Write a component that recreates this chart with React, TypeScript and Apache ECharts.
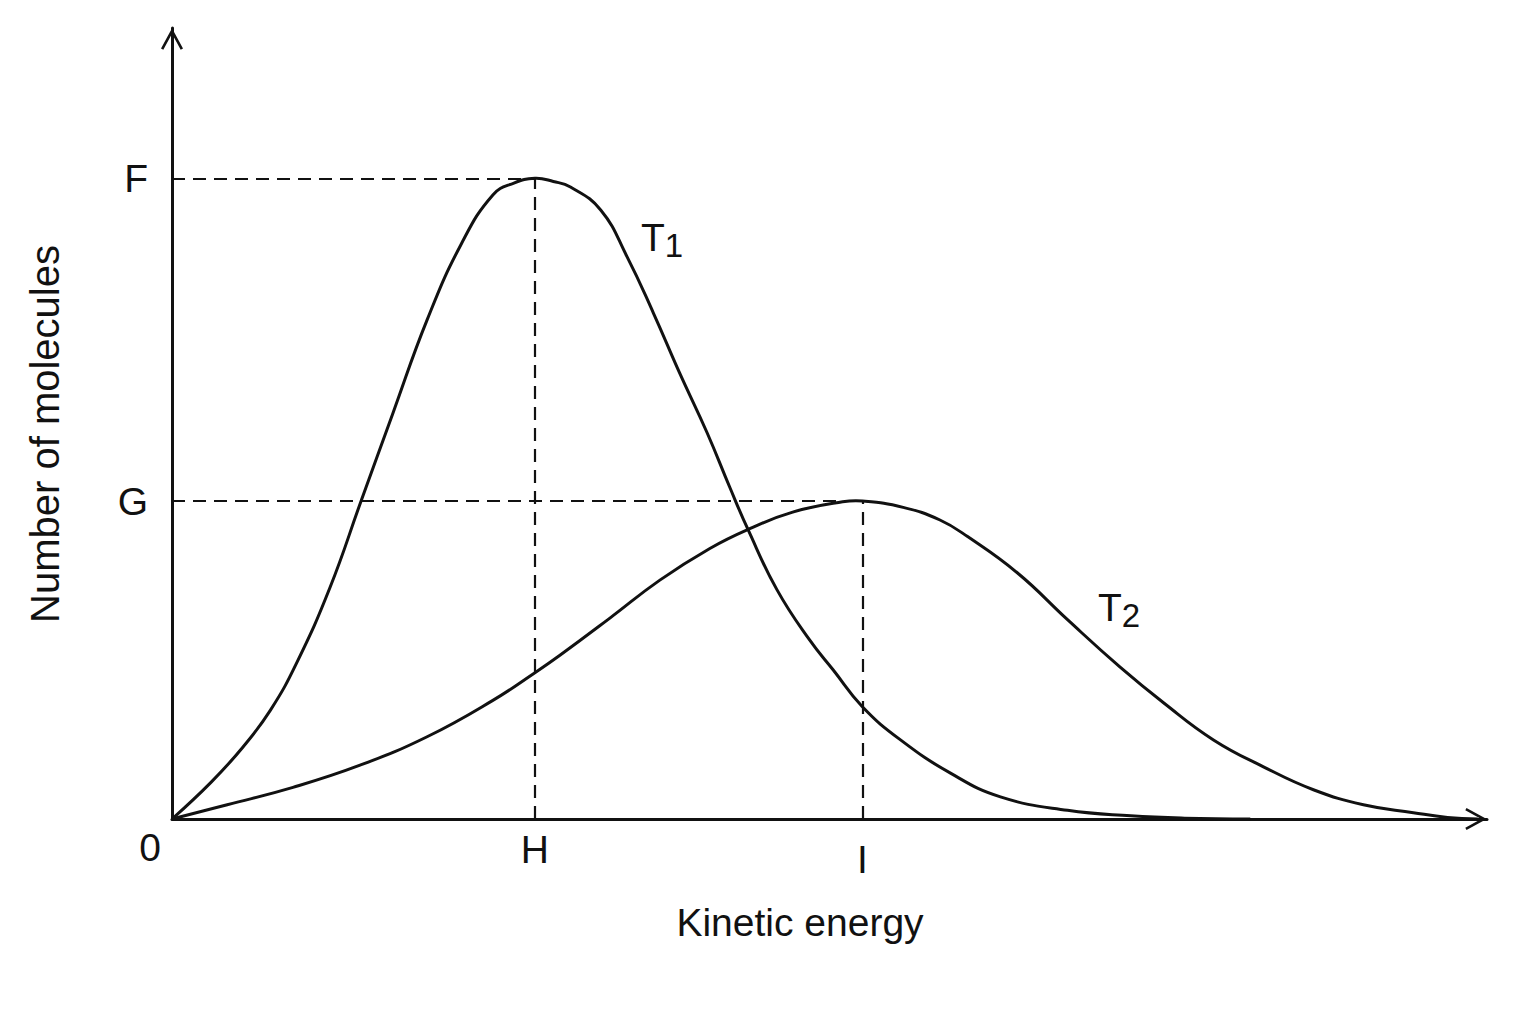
import { useEffect, useRef } from 'react'
import * as echarts from 'echarts'

// curves: [kinetic energy, number of molecules], both on a 0-100 scale
const t1Points: [number, number][] = [
  [0, 0], [3.0, 4.7], [5.4, 9.1], [7.5, 13.8], [9.5, 19.8], [12.0, 29.2],
  [14.4, 40.3], [16.8, 51.3], [19.4, 63.1], [22.0, 72.7], [24.4, 78.9],
  [26.0, 80.4], [27.6, 81.0], [29.0, 80.6], [30.3, 79.9], [32.6, 77.0],
  [34.6, 71.1], [36.6, 64.0], [38.6, 56.4], [40.7, 48.8], [42.4, 42.0],
  [43.8, 36.6], [46.0, 29.0], [48.5, 22.6], [50.3, 18.8], [52.5, 14.2],
  [55.4, 10.0], [59.2, 5.8], [63.0, 2.8], [68.1, 1.1], [72.9, 0.4],
  [77.0, 0.1], [82.0, 0]
]

const t2Points: [number, number][] = [
  [0, 0], [4.2, 1.8], [9.2, 4.0], [14.3, 6.8], [19.4, 10.4], [24.4, 15.0],
  [27.6, 18.5], [29.5, 20.7], [33.3, 25.4], [37.1, 30.2], [40.9, 34.2],
  [43.8, 36.6], [47.2, 38.8], [51.0, 40.1], [52.5, 40.2], [55.6, 39.4],
  [58.4, 37.8], [60.5, 35.7], [64.3, 31.1], [68.1, 25.2], [72.1, 19.2],
  [75.4, 14.7], [79.2, 10.0], [83.0, 6.6], [86.8, 3.7], [90.6, 1.8],
  [94.4, 0.8], [97.0, 0.2], [99.3, 0]
]

const curveNames = ['T1', 'T2']
const curveLabels = ['{t|T}{s|1}', '{t|T}{s|2}']
const peakYLabels = ['F', 'G']
const peakXLabels = ['H', 'I']
const xTitle = 'Kinetic energy'
const yTitle = 'Number of molecules'

const INK = '#111'
const FONT = 'Liberation Sans'

// open arrow head, tip at the top (axis builder rotates it)
const chevron = 'path://M11,0 L22,20.2 L19.7,21.4 L11,5.5 L2.3,21.4 L0,20.2 Z'

const peakOf = (pts: [number, number][]) =>
  pts.reduce((a, b) => (b[1] > a[1] ? b : a))

function txt(text: string, x: number, y: number, size: number, align = 'center', extra: any = {}) {
  return {
    type: 'text',
    x,
    y,
    silent: true,
    ...extra,
    style: {
      text,
      fontSize: size,
      fontFamily: FONT,
      fill: INK,
      align,
      textAlign: align,
      verticalAlign: 'middle',
      textVerticalAlign: 'middle'
    }
  }
}

// T with a subscript, as one rich text
function curveLabel(text: string, x: number, y: number) {
  const el: any = txt(text, x, y, 39, 'left')
  el.style.rich = {
    t: { fontSize: 39, fontFamily: FONT, lineHeight: 39, verticalAlign: 'top' },
    s: { fontSize: 33, fontFamily: FONT, lineHeight: 33, padding: [11, 0, 0, 0], verticalAlign: 'top' }
  }
  return el
}

export default function App() {
  const ref = useRef<HTMLDivElement | null>(null)

  useEffect(() => {
    if (!ref.current) return
    const chart = echarts.init(ref.current, undefined, { renderer: 'svg' })

    const axisCommon = {
      type: 'value',
      min: 0,
      max: 100,
      axisTick: { show: false },
      axisLabel: { show: false },
      splitLine: { show: false },
      axisLine: {
        show: true,
        symbol: ['none', chevron],
        symbolSize: [22, 22],
        symbolOffset: [0, -11],
        lineStyle: { color: INK, width: 3 }
      }
    }

    const markLabel = {
      show: true,
      position: 'start',
      fontSize: 39,
      fontFamily: FONT,
      color: INK
    }

    const guides = (pts: [number, number][], i: number) => {
      const [px, py] = peakOf(pts)
      return {
        silent: true,
        symbol: ['none', 'none'],
        animation: false,
        lineStyle: { color: INK, width: 2.2, type: [13, 8] },
        label: markLabel,
        emphasis: { disabled: true },
        data: [
          [
            { coord: [0, py], label: { ...markLabel, formatter: peakYLabels[i], distance: 24 } },
            { coord: [px, py] }
          ],
          [
            { coord: [px, 0], label: { ...markLabel, formatter: peakXLabels[i], distance: i === 0 ? 11 : 21 } },
            { coord: [px, py] }
          ]
        ]
      }
    }

    // one smooth polyline per curve, placed through the cartesian scales
    const curve = (pts: [number, number][], i: number) => ({
      name: curveNames[i],
      type: 'custom',
      coordinateSystem: 'cartesian2d',
      dimensions: ['x', 'y'],
      encode: { x: 0, y: 1 },
      data: pts,
      clip: false,
      z: 3,
      silent: true,
      renderItem: (params: any, api: any) => {
        if (params.dataIndex !== 0) return null
        return {
          type: 'polyline',
          shape: { points: pts.map((p) => api.coord(p)), smooth: 0.45 },
          style: { stroke: INK, lineWidth: 3, fill: 'none', lineJoin: 'round' }
        }
      },
      markLine: guides(pts, i)
    })

    const option: any = {
      animation: false,
      backgroundColor: '#fff',
      grid: { left: 172, right: 49, top: 28, bottom: 205 },
      xAxis: axisCommon,
      yAxis: axisCommon,
      series: [curve(t1Points, 0), curve(t2Points, 1)],
      graphic: [
        txt('0', 150, 847, 39),
        txt(xTitle, 800, 922, 39),
        txt(yTitle, 45, 434, 40, 'center', { rotation: Math.PI / 2 }),
        curveLabel(curveLabels[0], 641, 237),
        curveLabel(curveLabels[1], 1098, 607)
      ]
    }

    chart.setOption(option)

    return () => {
      chart.dispose()
    }
  }, [])

  return (
    <div
      ref={ref}
      style={{ position: 'absolute', left: 0, top: 0, width: 1536, height: 1024 }}
    />
  )
}
